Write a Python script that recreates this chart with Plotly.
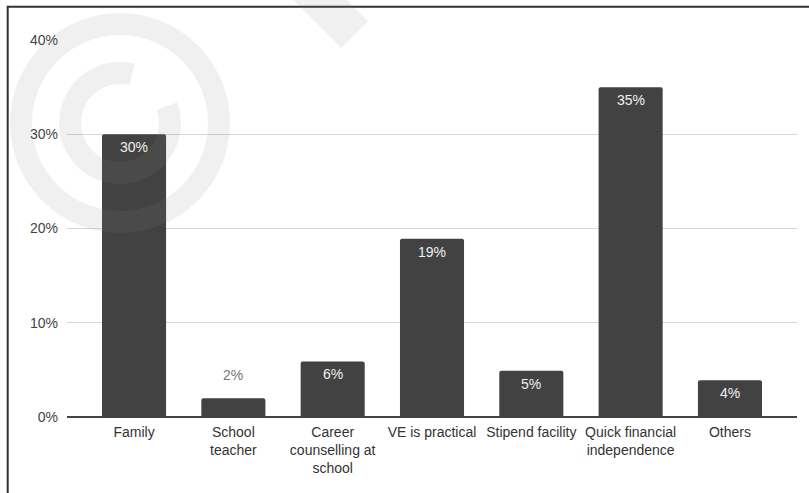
import numpy as np
import plotly.graph_objects as go

# ---- data ----
categories = ["Family", "School teacher", "Career counselling at school",
              "VE is practical", "Stipend facility",
              "Quick financial independence", "Others"]
tick_text = ["Family", "School<br>teacher", "Career<br>counselling at<br>school",
             "VE is practical", "Stipend facility",
             "Quick financial<br>independence", "Others"]
values = [30.0, 2.0, 5.9, 18.9, 4.9, 35.0, 3.9]
value_labels = ["30%", "2%", "6%", "19%", "5%", "35%", "4%"]
y_ticks = [0, 10, 20, 30, 40]
y_tick_labels = ["0%", "10%", "20%", "30%", "40%"]

W, H = 809, 493
L, R, T, B = 67, 12, 40, 76
PW, PH = W - L - R, H - T - B
FONT = "Liberation Sans, Arial, sans-serif"
FS = 14


def P(px, py):
    return (px - L) / PW, (H - B - py) / PH


fig = go.Figure(go.Bar(
    x=categories, y=values,
    marker=dict(color="#424242", cornerradius=2, line=dict(width=0)),
    width=0.645, cliponaxis=False, hoverinfo="skip",
))

annotations = []
for c, v, lab in zip(categories, values, value_labels):
    inside = v >= 3
    annotations.append(dict(
        x=c, y=v, xref="x", yref="y", text=lab, showarrow=False,
        yanchor="middle", yshift=-13 if inside else 23,
        font=dict(color="#f0f0f0" if inside else "#777777", size=FS,
                  family=FONT),
    ))

shapes = []
# frame
x0, y1 = P(7.7, 6.7)
x1, y0 = P(830, 520)
shapes.append(dict(type="rect", xref="paper", yref="paper", x0=x0, x1=x1,
                   y0=y0, y1=y1, line=dict(color="#333333", width=2),
                   layer="above"))

wm = "rgba(130,130,130,0.12)"
# watermark ring
cx, cy = 120, 123
rx0, ry1 = P(cx - 99, cy - 99)
rx1, ry0 = P(cx + 99, cy + 99)
shapes.append(dict(type="circle", xref="paper", yref="paper", x0=rx0, x1=rx1,
                   y0=ry0, y1=ry1, line=dict(color=wm, width=22),
                   layer="above"))
# watermark C
Ro, Ri = 61, 39
angs = np.radians(np.linspace(76, 380, 80))
pts = [(cx + Ro * np.cos(a), cy - Ro * np.sin(a)) for a in angs]
pts += [(cx + Ri * np.cos(a), cy - Ri * np.sin(a)) for a in angs[::-1]]
path = "M " + " L ".join("%.5f,%.5f" % P(px, py) for px, py in pts) + " Z"
shapes.append(dict(type="path", xref="paper", yref="paper", path=path,
                   fillcolor=wm, line=dict(width=0), layer="above"))
# watermark stripe
stripe = [(241, -52), (341, 48), (368, 21), (268, -79)]
path = "M " + " L ".join("%.5f,%.5f" % P(px, py) for px, py in stripe) + " Z"
shapes.append(dict(type="path", xref="paper", yref="paper", path=path,
                   fillcolor=wm, line=dict(width=0), layer="above"))

fig.update_layout(
    width=W, height=H,
    margin=dict(l=L, r=R, t=T, b=B, pad=0),
    paper_bgcolor="white", plot_bgcolor="white",
    font=dict(family=FONT, size=FS, color="#333333"),
    showlegend=False,
    shapes=shapes,
    annotations=annotations,
    xaxis=dict(
        tickmode="array", tickvals=categories, ticktext=tick_text,
        range=[-0.675, 6.675], showgrid=False, showline=False,
        ticks="", ticklabelstandoff=5,
        tickfont=dict(color="#333333", size=FS), automargin=False,
    ),
    yaxis=dict(
        range=[0, 40], tickvals=y_ticks, ticktext=y_tick_labels,
        showgrid=True, gridcolor="#d6d6d6", gridwidth=1,
        zeroline=True, zerolinecolor="#444444", zerolinewidth=1.5,
        showline=False, ticks="", ticklabelstandoff=8,
        tickfont=dict(color="#444444", size=FS), automargin=False,
    ),
)

fig.write_html("out.html")
